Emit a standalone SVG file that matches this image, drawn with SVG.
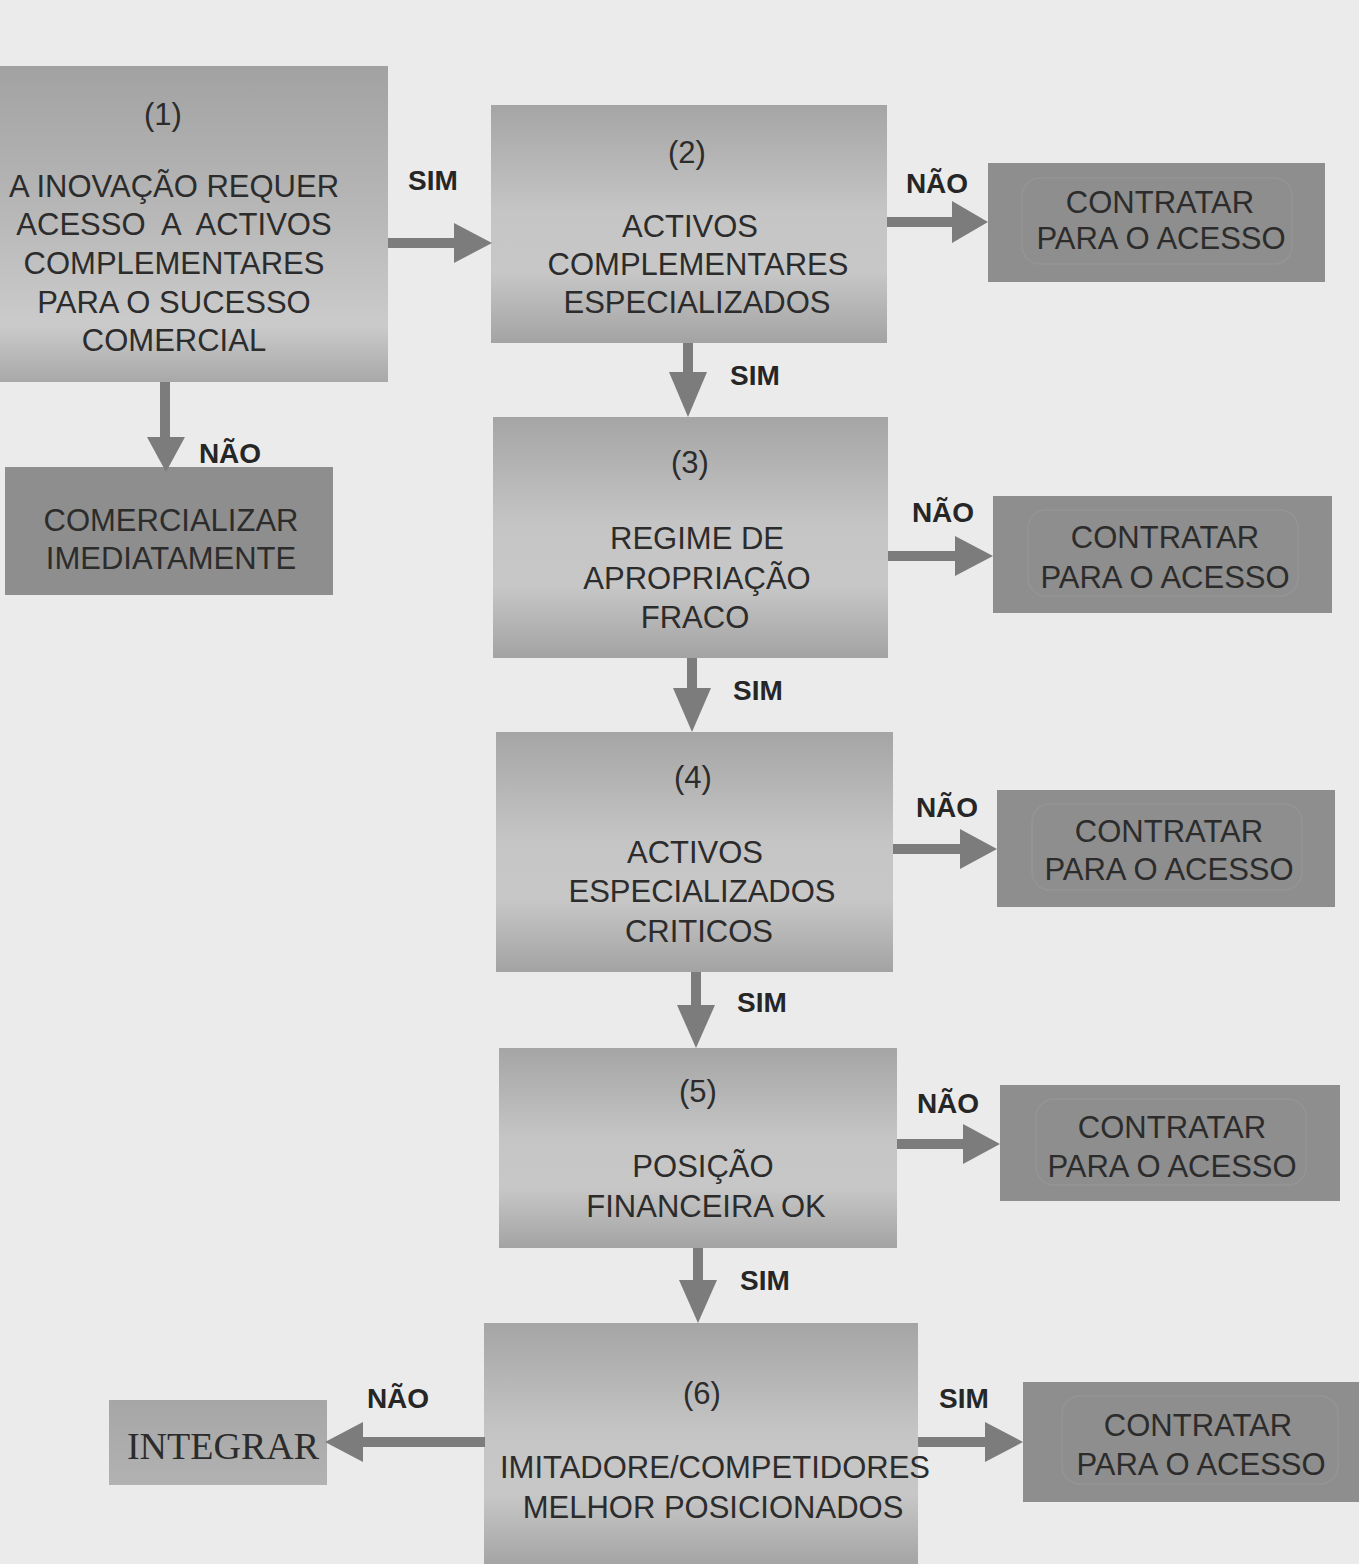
<svg xmlns="http://www.w3.org/2000/svg" width="1359" height="1564" viewBox="0 0 1359 1564">
<defs>
<linearGradient id="gMain" x1="0" y1="0" x2="0" y2="1">
<stop offset="0" stop-color="#a5a5a5"/>
<stop offset="0.45" stop-color="#c5c5c5"/>
<stop offset="0.7" stop-color="#c7c7c7"/>
<stop offset="1" stop-color="#a3a3a3"/>
</linearGradient>
<linearGradient id="gOne" x1="0" y1="0" x2="0" y2="1">
<stop offset="0" stop-color="#a2a2a2"/>
<stop offset="0.5" stop-color="#b9b9b9"/>
<stop offset="0.82" stop-color="#cbcbcb"/>
<stop offset="1" stop-color="#a8a8a8"/>
</linearGradient>
<linearGradient id="gInt" x1="0" y1="0" x2="0" y2="1">
<stop offset="0" stop-color="#a6a6a6"/>
<stop offset="1" stop-color="#b2b2b2"/>
</linearGradient>
</defs>
<style>
.bg{fill:#ebebeb}
.box{fill:url(#gMain)}
.dark{fill:#8e8e8e}
.inner{fill:none;stroke:#999999;stroke-width:1.5;opacity:0.6}
.t{font-family:"Liberation Sans",Arial,sans-serif;font-size:31px;fill:#2c2c2c;text-anchor:middle}
.lbl{font-family:"Liberation Sans",Arial,sans-serif;font-size:28px;font-weight:bold;fill:#262626;text-anchor:middle}
.serif{font-family:"Liberation Serif","Times New Roman",serif;font-size:38px;fill:#2c2c2c;text-anchor:middle}
.arr{fill:#7c7c7c}
</style>
<rect class="bg" x="0" y="0" width="1359" height="1564"/>

<g id="node1">
<rect x="-2" y="66" width="390" height="316" fill="url(#gOne)"/>
<text class="t" x="163" y="125">(1)</text>
<text class="t" x="174" y="197">A INOVAÇÃO REQUER</text>
<text class="t" x="174" y="235" xml:space="preserve">ACESSO  A  ACTIVOS</text>
<text class="t" x="174" y="274">COMPLEMENTARES</text>
<text class="t" x="174" y="313">PARA O SUCESSO</text>
<text class="t" x="174" y="351">COMERCIAL</text>
</g>

<g id="node-comercializar">
<rect class="dark" x="5" y="467" width="328" height="128"/>
<text class="t" x="171" y="531">COMERCIALIZAR</text>
<text class="t" x="171" y="569">IMEDIATAMENTE</text>
</g>

<g id="node2">
<rect class="box" x="491" y="105" width="396" height="238"/>
<text class="t" x="687" y="163">(2)</text>
<text class="t" x="690" y="237">ACTIVOS</text>
<text class="t" x="698" y="275">COMPLEMENTARES</text>
<text class="t" x="697" y="313">ESPECIALIZADOS</text>
</g>

<g id="node3">
<rect class="box" x="493" y="417" width="395" height="241"/>
<text class="t" x="690" y="473">(3)</text>
<text class="t" x="697" y="549">REGIME DE</text>
<text class="t" x="697" y="589">APROPRIAÇÃO</text>
<text class="t" x="695" y="628">FRACO</text>
</g>

<g id="node4">
<rect class="box" x="496" y="732" width="397" height="240"/>
<text class="t" x="693" y="788">(4)</text>
<text class="t" x="695" y="863">ACTIVOS</text>
<text class="t" x="702" y="902">ESPECIALIZADOS</text>
<text class="t" x="699" y="942">CRITICOS</text>
</g>

<g id="node5">
<rect class="box" x="499" y="1048" width="398" height="200"/>
<text class="t" x="698" y="1102">(5)</text>
<text class="t" x="703" y="1177">POSIÇÃO</text>
<text class="t" x="706" y="1217">FINANCEIRA OK</text>
</g>

<g id="node6">
<rect class="box" x="484" y="1323" width="434" height="245"/>
<text class="t" x="702" y="1404">(6)</text>
<text class="t" x="715" y="1478">IMITADORE/COMPETIDORES</text>
<text class="t" x="713" y="1518">MELHOR POSICIONADOS</text>
</g>

<g id="node-contratar1">
<rect class="dark" x="988" y="163" width="337" height="119"/>
<rect class="inner" x="1022" y="178" width="270" height="86" rx="18"/>
<text class="t" x="1160" y="213">CONTRATAR</text>
<text class="t" x="1161" y="249">PARA O ACESSO</text>
</g>

<g id="node-contratar2">
<rect class="dark" x="993" y="496" width="339" height="117"/>
<rect class="inner" x="1028" y="510" width="270" height="86" rx="18"/>
<text class="t" x="1165" y="548">CONTRATAR</text>
<text class="t" x="1165" y="588">PARA O ACESSO</text>
</g>

<g id="node-contratar3">
<rect class="dark" x="997" y="790" width="338" height="117"/>
<rect class="inner" x="1032" y="804" width="270" height="86" rx="18"/>
<text class="t" x="1169" y="842">CONTRATAR</text>
<text class="t" x="1169" y="880">PARA O ACESSO</text>
</g>

<g id="node-contratar4">
<rect class="dark" x="1000" y="1085" width="340" height="116"/>
<rect class="inner" x="1036" y="1099" width="270" height="86" rx="18"/>
<text class="t" x="1172" y="1138">CONTRATAR</text>
<text class="t" x="1172" y="1177">PARA O ACESSO</text>
</g>

<g id="node-contratar5">
<rect class="dark" x="1023" y="1382" width="340" height="120"/>
<rect class="inner" x="1062" y="1396" width="276" height="88" rx="18"/>
<text class="t" x="1198" y="1436">CONTRATAR</text>
<text class="t" x="1201" y="1475">PARA O ACESSO</text>
</g>

<g id="node-integrar">
<rect x="109" y="1400" width="218" height="85" fill="url(#gInt)"/>
<text class="serif" x="223" y="1459">INTEGRAR</text>
</g>

<g id="connectors">
<polygon class="arr" points="388,238 454,238 454,223 492,243 454,263 454,248 388,248"/>
<polygon class="arr" points="887,217 952,217 952,201 988,222 952,243 952,227 887,227"/>
<polygon class="arr" points="888,551 955,551 955,536 993,556 955,576 955,561 888,561"/>
<polygon class="arr" points="893,844 960,844 960,829 997,849 960,869 960,854 893,854"/>
<polygon class="arr" points="897,1139 963,1139 963,1124 1000,1144 963,1164 963,1149 897,1149"/>
<polygon class="arr" points="918,1437 985,1437 985,1422 1023,1442 985,1462 985,1447 918,1447"/>
<polygon class="arr" points="485,1437 363,1437 363,1422 325,1442 363,1462 363,1447 485,1447"/>
<polygon class="arr" points="160,382 170,382 170,437 185,437 166,472 147,437 160,437"/>
<polygon class="arr" points="683,343 693,343 693,372 707,372 688,417 669,372 683,372"/>
<polygon class="arr" points="687,658 697,658 697,688 711,688 692,732 673,688 687,688"/>
<polygon class="arr" points="691,972 701,972 701,1005 715,1005 696,1048 677,1005 691,1005"/>
<polygon class="arr" points="693,1248 703,1248 703,1280 717,1280 698,1323 679,1280 693,1280"/>
<text class="lbl" x="433" y="190">SIM</text>
<text class="lbl" x="230" y="463">NÃO</text>
<text class="lbl" x="937" y="193">NÃO</text>
<text class="lbl" x="755" y="385">SIM</text>
<text class="lbl" x="943" y="522">NÃO</text>
<text class="lbl" x="758" y="700">SIM</text>
<text class="lbl" x="947" y="817">NÃO</text>
<text class="lbl" x="762" y="1012">SIM</text>
<text class="lbl" x="948" y="1113">NÃO</text>
<text class="lbl" x="765" y="1290">SIM</text>
<text class="lbl" x="398" y="1408">NÃO</text>
<text class="lbl" x="964" y="1408">SIM</text>
</g>
</svg>
